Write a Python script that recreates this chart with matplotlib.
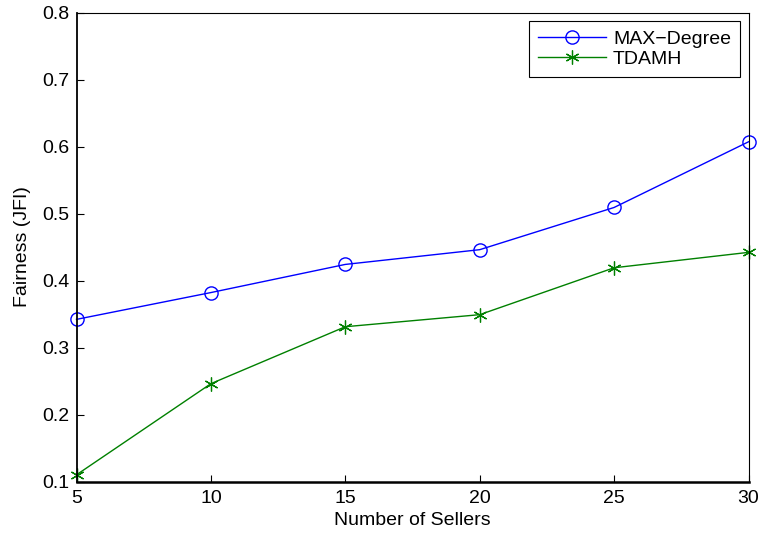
import matplotlib
matplotlib.use("Agg")
import matplotlib.pyplot as plt

plt.rcParams['font.family'] = ['Liberation Sans', 'DejaVu Sans']

sellers = [5, 10, 15, 20, 25, 30]
max_degree = [0.342, 0.382, 0.424, 0.446, 0.509, 0.607]
tdamh = [0.110, 0.246, 0.331, 0.349, 0.419, 0.442]
yticks = [0.1, 0.2, 0.3, 0.4, 0.5, 0.6, 0.7, 0.8]

W, H = 760, 533
fig = plt.figure(figsize=(W / 100, H / 100), dpi=100)
# axes box in pixels: left 76.5, right 748.5, top 12.5, bottom 481.5
ax = fig.add_axes([76.5 / W, (H - 481.5) / H, 672 / W, 469 / H])

ax.plot(sellers, max_degree, '-o', color=(0, 0, 1), lw=1.0, ms=9.5,
        mfc='none', mew=1.0, label='MAX\u2212Degree', clip_on=False)
ax.plot(sellers, tdamh, '-', color=(0, 0.5, 0), lw=1.0, ms=10,
        mew=0.9, marker=(6, 2, 0), label='TDAMH', clip_on=False)

ax.set_xlim(5, 30)
ax.set_ylim(0.1, 0.8)
ax.set_xticks(sellers)
ax.set_yticks(yticks)
ax.set_yticklabels([f'{t:.1f}' for t in yticks])
ax.tick_params(direction='in', length=5, width=0.8, labelsize=14)
ax.tick_params(axis='x', pad=6)
ax.tick_params(axis='y', pad=5)
ax.spines['bottom'].set_linewidth(1.8)
ax.spines['left'].set_linewidth(1.3)
ax.spines['top'].set_linewidth(0.8)
ax.spines['right'].set_linewidth(0.8)

ax.set_xlabel('Number of Sellers', fontsize=14, labelpad=4)
ax.set_ylabel('Fairness (JFI)', fontsize=14, labelpad=8)

leg = ax.legend(loc='upper right', fontsize=14, fancybox=False, framealpha=1,
                edgecolor='black', borderaxespad=0.45, handlelength=3.5,
                labelspacing=0.15, borderpad=0.45, handletextpad=0.35)
leg.get_frame().set_linewidth(0.8)

fig.savefig('out.png', dpi=100)
